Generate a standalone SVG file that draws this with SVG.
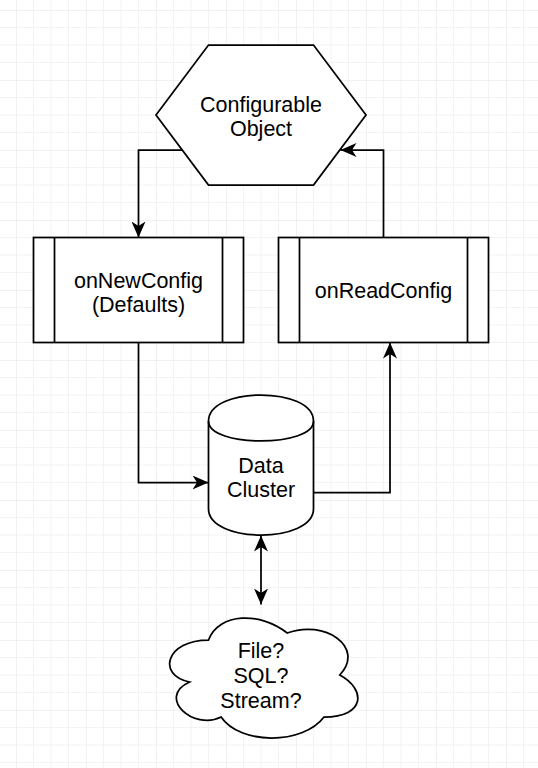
<svg xmlns="http://www.w3.org/2000/svg" width="538" height="768" viewBox="0 0 538 768">
<style>
.shape{fill:#fff;stroke:#000;stroke-width:1.75}
.edge{fill:none;stroke:#000;stroke-width:1.75}
.lbl{font-family:"Liberation Sans",Arial,sans-serif;font-size:21.5px;fill:#000;text-anchor:middle}
</style>
<defs>
<pattern id="grid" patternUnits="userSpaceOnUse" x="16" y="10" width="70" height="70">
<path d="M17.5,0V70M35,0V70M52.5,0V70M0,17.5H70M0,35H70M0,52.5H70" stroke="#f3f3f3" stroke-width="1" fill="none"/>
<path d="M0,0V70M0,0H70" stroke="#e4e4e4" stroke-width="1" fill="none"/>
</pattern>
<marker id="arr" markerUnits="userSpaceOnUse" viewBox="0 0 16 14" refX="16" refY="7" markerWidth="16" markerHeight="14" orient="auto">
<path d="M0,0L16,7L0,14L4.5,7Z" fill="#000"/>
</marker>
<marker id="arrS" markerUnits="userSpaceOnUse" viewBox="0 0 16 14" refX="16" refY="7" markerWidth="16" markerHeight="14" orient="auto-start-reverse">
<path d="M0,0L16,7L0,14L4.5,7Z" fill="#000"/>
</marker>
</defs>
<rect width="538" height="768" fill="#fff"/>
<rect width="538" height="768" fill="url(#grid)"/>
<g id="connectors">
<path class="edge" d="M182,150H138.5V237.5" marker-end="url(#arr)"/>
<path class="edge" d="M383.5,237.5V150H340.5" marker-end="url(#arr)"/>
<path class="edge" d="M138.5,342.5V482.5H208.5" marker-end="url(#arr)"/>
<path class="edge" d="M313.5,492.5H390V342.5" marker-end="url(#arr)"/>
<path class="edge" d="M261,535.5V604.5" marker-start="url(#arrS)" marker-end="url(#arr)"/>
</g>
<g id="configurable-object">
<polygon class="shape" points="156,115 208.5,45 313.5,45 366,115 313.5,185 208.5,185"/>
<text class="lbl" x="261" y="111.7">Configurable</text>
<text class="lbl" x="261" y="136">Object</text>
</g>
<g id="on-new-config">
<rect class="shape" x="33.5" y="237.5" width="210" height="105"/>
<path class="edge" d="M54.5,237.5V342.5M222.5,237.5V342.5"/>
<text class="lbl" x="138.5" y="287.7">onNewConfig</text>
<text class="lbl" x="138.5" y="311.7">(Defaults)</text>
</g>
<g id="on-read-config">
<rect class="shape" x="278.5" y="237.5" width="210" height="105"/>
<path class="edge" d="M299.5,237.5V342.5M467.5,237.5V342.5"/>
<text class="lbl" x="383.5" y="298.3">onReadConfig</text>
</g>
<g id="data-cluster">
<path class="shape" d="M208.5,421.25C208.5,386.25 313.5,386.25 313.5,421.25L313.5,508.75C313.5,543.75 208.5,543.75 208.5,508.75Z"/>
<path class="edge" d="M208.5,421.25C208.5,447.5 313.5,447.5 313.5,421.25"/>
<text class="lbl" x="261" y="473.3">Data</text>
<text class="lbl" x="261" y="497.3">Cluster</text>
</g>
<g id="storage-cloud">
<path class="shape" d="M208.5,640C166.5,640 156,675 189.6,682C156,697.4 193.8,731 221.1,717C240,745 303,745 324,717C366,717 366,689 339.75,675C366,647 324,619 287.25,633C261,612 219,612 208.5,640Z"/>
<text class="lbl" x="261" y="658.3">File?</text>
<text class="lbl" x="261" y="683.3">SQL?</text>
<text class="lbl" x="261" y="707.7">Stream?</text>
</g>
</svg>
